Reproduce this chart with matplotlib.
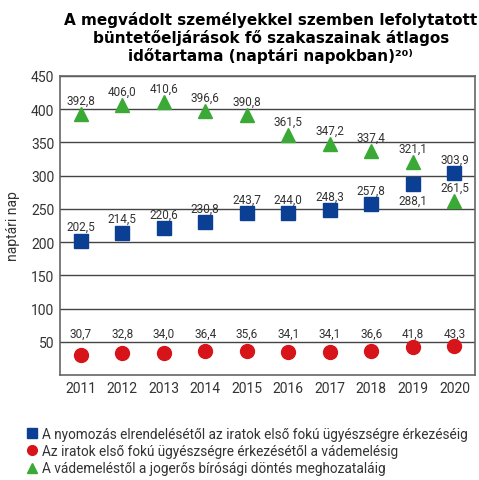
import numpy as np
import matplotlib.pyplot as plt

years = [2011, 2012, 2013, 2014, 2015, 2016, 2017, 2018, 2019, 2020]
nyomozas = [202.5, 214.5, 220.6, 230.8, 243.7, 244.0, 248.3, 257.8, 288.1, 303.9]
vademeles = [30.7, 32.8, 34.0, 36.4, 35.6, 34.1, 34.1, 36.6, 41.8, 43.3]
birosag = [392.8, 406.0, 410.6, 396.6, 390.8, 361.5, 347.2, 337.4, 321.1, 261.5]

labels = ["A nyomozás elrendelésétől az iratok első fokú ügyészségre érkezéséig",
          "Az iratok első fokú ügyészségre érkezésétől a vádemelésig",
          "A vádemeléstől a jogerős bírósági döntés meghozataláig"]

BLUE = "#0b3f93"
RED = "#d7141a"
GREEN = "#3aa935"
TXT = "#333333"

def fmt(v):
    return ("%.1f" % v).replace(".", ",")

fig = plt.figure(figsize=(4.79, 4.81), dpi=100)
ax = fig.add_axes([0.125, 0.218, 0.867, 0.622])

x = np.arange(len(years))
ax.plot(x, nyomozas, "s", color=BLUE, ms=10, label=labels[0], zorder=3)
ax.plot(x, vademeles, "o", color=RED, ms=10, label=labels[1], zorder=3)
ax.plot(x, birosag, "^", color=GREEN, ms=10, label=labels[2], zorder=3)

# feliratok
for i, v in enumerate(nyomozas):
    off = -12 if years[i] == 2019 else 10
    ax.annotate(fmt(v), (x[i], v), xytext=(0, off), textcoords="offset points",
                ha="center", va="center", fontsize=8.5, color=TXT, family="Roboto")
for i, v in enumerate(birosag):
    ax.annotate(fmt(v), (x[i], v), xytext=(0, 10), textcoords="offset points",
                ha="center", va="center", fontsize=8.5, color=TXT, family="Roboto")
for i, v in enumerate(vademeles):
    ax.text(x[i], 63, fmt(v), ha="center", va="center", fontsize=8.5,
            color=TXT, family="Roboto")

ax.set_xlim(-0.5, 9.5)
ax.set_ylim(0, 450)
ax.set_yticks(range(50, 451, 50))
ax.set_xticks(x)
ax.set_xticklabels(years)
ax.tick_params(length=0, labelsize=10, labelcolor=TXT, pad=4)
for t in ax.get_xticklabels() + ax.get_yticklabels():
    t.set_family("Roboto")
ax.grid(axis="y", color="#444444", lw=1)
ax.set_axisbelow(True)
for s in ax.spines.values():
    s.set_color("#666666")
    s.set_linewidth(1.2)
ax.set_ylabel("naptári nap", fontsize=10, color=TXT, family="Roboto", labelpad=8)

fig.text(0.565, 0.975, "A megvádolt személyekkel szemben lefolytatott\n"
         "büntetőeljárások fő szakaszainak átlagos\n"
         "időtartama (naptári napokban)²⁰⁾",
         ha="center", va="top", fontsize=11, fontweight="bold",
         linespacing=1.15, family="DejaVu Sans")

h, l = ax.get_legend_handles_labels()
leg = fig.legend(h, l, loc="upper left", bbox_to_anchor=(0.04, 0.125), frameon=False,
                 fontsize=9.8, handletextpad=0.25, labelspacing=0.25,
                 handlelength=0.9, borderpad=0, markerscale=0.7)
for t in leg.get_texts():
    t.set_family("Roboto")
    t.set_color(TXT)

plt.savefig("out.png", dpi=100)
